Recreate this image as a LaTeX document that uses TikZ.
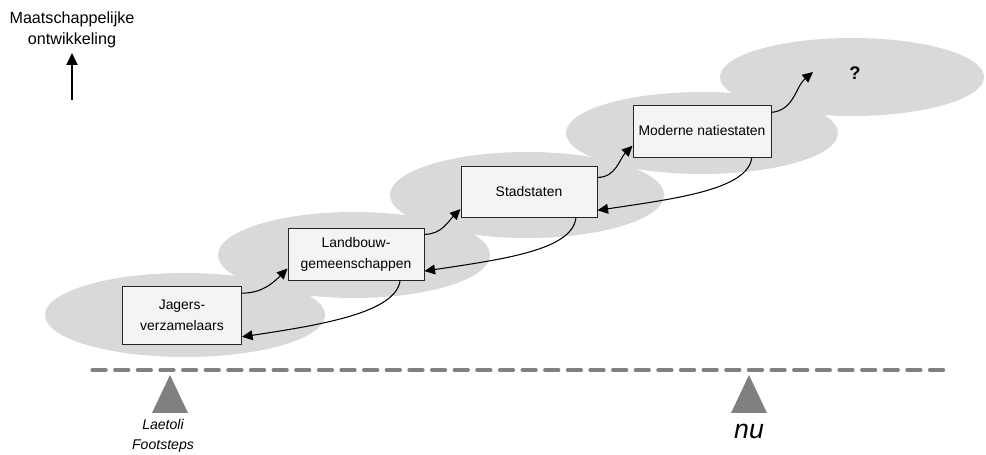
\documentclass[tikz,border=0pt]{standalone}
\usepackage{fontspec}
\setmainfont{Liberation Sans}
\usepackage{tikz}
\usepackage{xcolor}
\usetikzlibrary{arrows.meta}
\definecolor{wolkgrijs}{HTML}{D9D9D9}
\definecolor{lijngrijs}{HTML}{808080}
\definecolor{vakwit}{HTML}{F4F4F4}

\begin{document}
\begin{tikzpicture}[fase/.style={rectangle, draw=black!85, fill=vakwit, line width=0.7pt, align=center, font=\fontsize{9.9}{14.9}\selectfont, minimum width=3.4cm, minimum height=1.3cm, inner sep=0pt},
                    pijl/.style={-{Triangle[length=7.5pt,width=7pt]}, line width=0.75pt}]
                    \useasboundingbox (0,0) rectangle (24.65,11.375);

                    % wolken
                    \fill[wolkgrijs] (4.625,3.5) ellipse (3.5 and 1.05);
                    \fill[wolkgrijs] (8.85,5.0) ellipse (3.4 and 1.075);
                    \fill[wolkgrijs] (13.175,6.5) ellipse (3.425 and 1.075);
                    \fill[wolkgrijs] (17.55,8.05) ellipse (3.4 and 1.025);
                    \fill[wolkgrijs] (21.3,9.45) ellipse (3.3 and 0.975);

                    \node[fase, minimum width=2.975cm, minimum height=1.45cm] (jagers) at (4.55,3.5) {Jagers-\\verzamelaars};
                    \node[fase] (landbouw) at (8.9,5.025) {Landbouw-\\gemeenschappen};
                    \node[fase, minimum height=1.275cm] (stad) at (13.225,6.575) {Stadstaten};
                    \node[fase, minimum width=3.45cm] (natie) at (17.55,8.1) {Moderne natiestaten};
                    \node[font=\fontsize{13}{15}\selectfont\bfseries] (vraag) at (21.375,9.55) {?};
                    \coordinate (naarvraag) at (20.325,9.575);

                    \draw[pijl] (jagers.20) to[out=0, in=225] (landbouw.192);
                    \draw[pijl] (landbouw.16) to[out=0, in=225] (stad.194);
                    \draw[pijl] (stad.12) to[out=0, in=225] (natie.192);
                    \draw[pijl] (natie.15) to[out=5, in=220] (naarvraag);

                    \draw[pijl] (landbouw.-31) .. controls +(-0.1,-0.8) and +(2.0,0.3) .. (jagers.-20);
                    \draw[pijl] (stad.-29) .. controls +(-0.1,-0.8) and +(2.0,0.3) .. (landbouw.-14);
                    \draw[pijl] (natie.-28) .. controls +(-0.1,-0.8) and +(2.0,0.3) .. (stad.-15);

                    % tijdlijn
                    \draw[lijngrijs, line width=2.8pt, line cap=round, dash pattern=on 9.5pt off 6.6pt] (2.31,2.125) -- (23.75,2.125);
                    \fill[lijngrijs] (4.25,2.0) -- (3.8,1.05) -- (4.7,1.05) -- cycle;
                    \fill[lijngrijs] (18.725,2.0) -- (18.275,1.05) -- (19.175,1.05) -- cycle;
                    \node[font=\fontsize{10}{14.5}\selectfont\itshape, align=center] (laetoli) at (4.075,0.475) {Laetoli\\Footsteps};
                    \node[font=\fontsize{19}{22}\selectfont\itshape] (nu) at (18.725,0.6) {nu};

                    \node[font=\fontsize{11.5}{15}\selectfont, align=center] (titel) at (1.8,10.625) {Maatschappelijke\\ontwikkeling};
                    \coordinate (as) at (1.8,8.875);
                    \draw[-{Triangle[length=8.5pt,width=8pt]}, line width=0.75pt] (as) -- (titel);
                \end{tikzpicture}
\end{document}
